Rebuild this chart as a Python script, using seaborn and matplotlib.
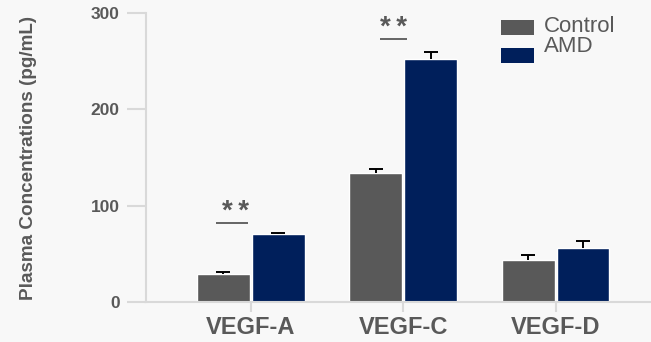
import matplotlib
matplotlib.use("Agg")
import matplotlib.pyplot as plt
from matplotlib.patches import Rectangle
import seaborn as sns
import pandas as pd

# Plasma VEGF levels (mean and upper SEM) per group
markers = ["VEGF-A", "VEGF-C", "VEGF-D"]
groups = ["Control", "AMD"]
control_mean = [29, 134, 43.5]
control_err = [2, 4, 5]
amd_mean = [70.5, 252, 56]
amd_err = [1.5, 8, 7]
sig_labels = ["*\u2009*", "*\u2009*", ""]
yticks = [0, 100, 200, 300]

colors = {"Control": "#595959", "AMD": "#001f5b"}
bg = "#f8f8f8"
text_gray = "#595959"
axis_gray = "#d9d9d9"

sns.set_theme(style="white")
plt.rcParams["font.family"] = ["Liberation Sans", "DejaVu Sans"]

df = pd.DataFrame({
    "marker": markers * 2,
    "group": ["Control"] * 3 + ["AMD"] * 3,
    "value": control_mean + amd_mean,
})
errs = {"Control": control_err, "AMD": amd_err}
means = {"Control": control_mean, "AMD": amd_mean}

fig = plt.figure(figsize=(6.51, 3.42), dpi=100, facecolor=bg)
ax = fig.add_axes([0.2243, 0.117, 0.7757, 0.845], facecolor=bg)

sns.barplot(data=df, x="marker", y="value", hue="group", order=markers,
            hue_order=groups, palette=colors, width=0.72, gap=0.04,
            errorbar=None, legend=False, ax=ax, saturation=1)

# upper-only error bars (stem + top cap) centred on each bar
for container, g in zip(ax.containers, groups):
    for bar, m, e in zip(container, means[g], errs[g]):
        cx = bar.get_x() + bar.get_width() / 2
        ax.vlines(cx, m, m + e, color="black", lw=1.4, zorder=3)
        ax.plot([cx], [m + e], marker="_", markersize=10, markeredgewidth=1.4,
                color="black", zorder=3)

# significance marks: (line start, line end) relative to category centre, line height
sig_pos = [(-0.225, -0.015, 82), (-0.15, 0.025, 273)]
for i, (lab, (x0, x1, ly)) in enumerate(zip(sig_labels, sig_pos)):
    if not lab:
        continue
    ax.plot([i + x0, i + x1], [ly, ly], color=text_gray, lw=1.3,
            solid_capstyle="butt")
    ax.text(i + (x0 + x1) / 2 + (0.02 if i == 0 else 0.0), ly - 2, lab,
            ha="center", va="bottom", fontsize=20, fontweight="bold",
            color=text_gray)

ax.set_ylim(0, 300)
ax.set_xlim(-0.687, 2.625)
ax.set_yticks(yticks)
ax.set_yticklabels([str(t) for t in yticks], fontsize=12.5, fontweight="bold",
                   color=text_gray)
ax.set_xticks(range(len(markers)))
ax.set_xticklabels(markers, fontsize=17, fontweight="bold", color=text_gray)
ax.tick_params(axis="y", length=13.5, width=1.5, color=axis_gray, pad=5.5, left=True)
ax.tick_params(axis="x", length=7, width=1.5, color=axis_gray, pad=3, bottom=True)
ax.set_xlabel("")
ax.set_ylabel("Plasma Concentrations (pg/mL)", fontsize=13.6, fontweight="bold",
              color=text_gray)
ax.yaxis.set_label_coords(-0.215, 0.5)

for side in ["top", "right"]:
    ax.spines[side].set_visible(False)
for side in ["left", "bottom"]:
    ax.spines[side].set_color(axis_gray)
    ax.spines[side].set_linewidth(1.5)

# legend drawn in figure pixels
W, H = 651, 342
def fx(px):
    return px / W
def fy(py):
    return 1 - py / H

for g, top, ty in [("Control", 20, 26), ("AMD", 48, 47)]:
    fig.patches.append(Rectangle((fx(501), fy(top + 14.7)), 33 / W, 14.7 / H,
                                 transform=fig.transFigure, facecolor=colors[g],
                                 edgecolor="none"))
    fig.text(fx(544), fy(ty), g, ha="left", va="center", fontsize=16,
             color=text_gray)

fig.savefig("out.png", dpi=100, facecolor=bg)
